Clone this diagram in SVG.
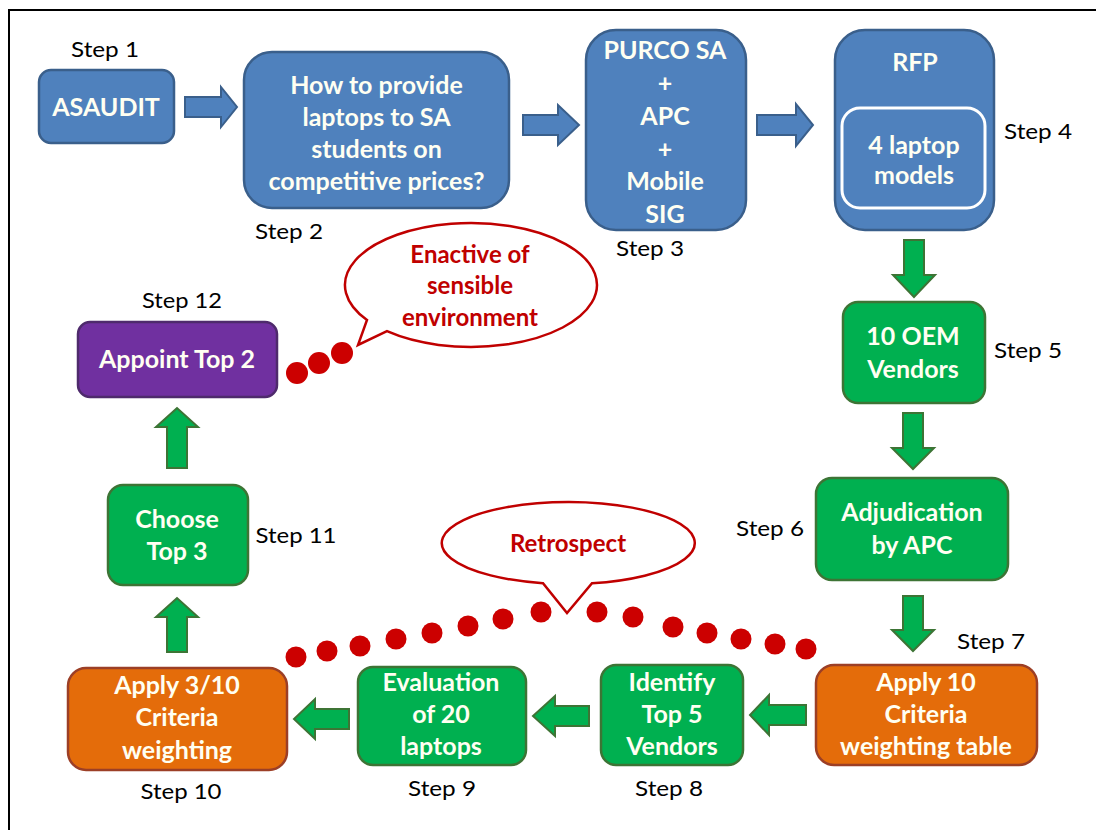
<svg xmlns="http://www.w3.org/2000/svg" width="1096" height="830" viewBox="0 0 1096 830">
  <style>
    .blue { fill: #4f81bd; stroke: #3a5f8b; stroke-width: 2.5; }
    .green { fill: #00b050; stroke: #3d7435; stroke-width: 2.5; }
    .orange { fill: #e46c0a; stroke: #9c3f26; stroke-width: 2.5; }
    .purple { fill: #7030a0; stroke: #4e2a6c; stroke-width: 2.5; }
    .ablue { fill: #4f81bd; stroke: #3a5f8b; stroke-width: 2; }
    .agreen { fill: #00b050; stroke: #3d7435; stroke-width: 2; }
    .t { font-family: Lato, "Liberation Sans", sans-serif; font-weight: bold; font-size: 25px; fill: #fffff2; text-anchor: middle; }
    .s { font-family: Lato, "Liberation Sans", sans-serif; font-size: 21px; fill: #000000; text-anchor: middle; }
    .b { font-family: Lato, "Liberation Sans", sans-serif; font-weight: bold; font-size: 24px; fill: #c00000; text-anchor: middle; }
    .bubble { fill: #ffffff; stroke: #c00000; stroke-width: 2.5; }
    .dot { fill: #cc0000; }
  </style>

  <!-- frame -->
  <path d="M9,830 V10 H1096" fill="none" stroke="#000000" stroke-width="2"/>

  <!-- connectors -->
  <g id="connectors">
    <path class="ablue" d="M185,97 H221 V87 L237,107 L221,127 V117 H185 Z"/>
    <path class="ablue" d="M523,115 H558 V105 L579,125 L558,145 V135 H523 Z"/>
    <path class="ablue" d="M757,115 H796 V104 L813,125 L796,146 V135 H757 Z"/>
    <path class="agreen" d="M904,240 H924 V275 H935 L914,297 L893,275 H904 Z"/>
    <path class="agreen" d="M903,413 H923 V448 H934 L913,469 L892,448 H903 Z"/>
    <path class="agreen" d="M903,596 H923 V630 H934 L913,651 L892,630 H903 Z"/>
    <path class="agreen" d="M806,705 H769 V695 L750,715 L769,735 V725 H806 Z"/>
    <path class="agreen" d="M589,706 H555 V696 L533,716 L555,736 V726 H589 Z"/>
    <path class="agreen" d="M349,709 H315 V699 L294,719 L315,739 V729 H349 Z"/>
    <path class="agreen" d="M167,652 V617 H156 L177,598 L198,617 H187 V652 Z"/>
    <path class="agreen" d="M167,468 V427 H156 L177,408 L198,427 H187 V468 Z"/>
  </g>

  <!-- step 1 -->
  <g id="step1">
    <text class="s" x="105" y="57" textLength="68" lengthAdjust="spacingAndGlyphs">Step 1</text>
    <rect class="blue" x="39" y="70" width="135" height="73" rx="12"/>
    <text class="t" x="106" y="116">ASAUDIT</text>
  </g>

  <!-- step 2 -->
  <g id="step2">
    <rect class="blue" x="244" y="52" width="265" height="156" rx="28"/>
    <text class="t" x="376.5" y="94">How to provide</text>
    <text class="t" x="376.5" y="126">laptops to SA</text>
    <text class="t" x="376.5" y="158">students on</text>
    <text class="t" x="376.5" y="190">competitive prices?</text>
    <text class="s" x="289" y="239" textLength="68" lengthAdjust="spacingAndGlyphs">Step 2</text>
  </g>

  <!-- step 3 -->
  <g id="step3">
    <rect class="blue" x="586" y="30" width="160" height="200" rx="30"/>
    <text class="t" x="665" y="59">PURCO SA</text>
    <text class="t" x="665" y="92">+</text>
    <text class="t" x="665" y="125">APC</text>
    <text class="t" x="665" y="158">+</text>
    <text class="t" x="665" y="190">Mobile</text>
    <text class="t" x="665" y="223">SIG</text>
    <text class="s" x="650" y="256" textLength="68" lengthAdjust="spacingAndGlyphs">Step 3</text>
  </g>

  <!-- step 4 -->
  <g id="step4">
    <rect class="blue" x="835" y="30" width="159" height="200" rx="30"/>
    <text class="t" x="915" y="71">RFP</text>
    <rect x="842" y="108" width="143" height="100" rx="18" fill="none" stroke="#ffffff" stroke-width="3"/>
    <text class="t" x="914" y="154">4 laptop</text>
    <text class="t" x="914" y="184">models</text>
    <text class="s" x="1038" y="139" textLength="68" lengthAdjust="spacingAndGlyphs">Step 4</text>
  </g>

  <!-- step 5 -->
  <g id="step5">
    <rect class="green" x="843" y="302" width="142" height="101" rx="15"/>
    <text class="t" x="913" y="345">10 OEM</text>
    <text class="t" x="913" y="378">Vendors</text>
    <text class="s" x="1028" y="358" textLength="68" lengthAdjust="spacingAndGlyphs">Step 5</text>
  </g>

  <!-- step 6 -->
  <g id="step6">
    <rect class="green" x="816" y="478" width="192" height="102" rx="16"/>
    <text class="t" x="912" y="521">Adjudication</text>
    <text class="t" x="912" y="554">by APC</text>
    <text class="s" x="770" y="536" textLength="68" lengthAdjust="spacingAndGlyphs">Step 6</text>
  </g>

  <!-- step 7 -->
  <g id="step7">
    <rect class="orange" x="816" y="665" width="221" height="100" rx="18"/>
    <text class="t" x="926" y="691">Apply 10</text>
    <text class="t" x="926" y="723">Criteria</text>
    <text class="t" x="926" y="755">weighting table</text>
    <text class="s" x="991" y="649" textLength="68" lengthAdjust="spacingAndGlyphs">Step 7</text>
  </g>

  <!-- step 8 -->
  <g id="step8">
    <rect class="green" x="601" y="665" width="142" height="100" rx="15"/>
    <text class="t" x="672" y="691">Identify</text>
    <text class="t" x="672" y="723">Top 5</text>
    <text class="t" x="672" y="755">Vendors</text>
    <text class="s" x="669" y="796" textLength="68" lengthAdjust="spacingAndGlyphs">Step 8</text>
  </g>

  <!-- step 9 -->
  <g id="step9">
    <rect class="green" x="358" y="667" width="168" height="98" rx="15"/>
    <text class="t" x="441" y="691">Evaluation</text>
    <text class="t" x="441" y="723">of 20</text>
    <text class="t" x="441" y="755">laptops</text>
    <text class="s" x="442" y="796" textLength="68" lengthAdjust="spacingAndGlyphs">Step 9</text>
  </g>

  <!-- step 10 -->
  <g id="step10">
    <rect class="orange" x="68" y="668" width="219" height="102" rx="18"/>
    <text class="t" x="177" y="694">Apply 3/10</text>
    <text class="t" x="177" y="726">Criteria</text>
    <text class="t" x="177" y="759">weighting</text>
    <text class="s" x="181" y="799" textLength="81" lengthAdjust="spacingAndGlyphs">Step 10</text>
  </g>

  <!-- step 11 -->
  <g id="step11">
    <rect class="green" x="108" y="485" width="140" height="100" rx="15"/>
    <text class="t" x="177" y="528">Choose</text>
    <text class="t" x="177" y="560">Top 3</text>
    <text class="s" x="296" y="543" textLength="81" lengthAdjust="spacingAndGlyphs">Step 11</text>
  </g>

  <!-- step 12 -->
  <g id="step12">
    <text class="s" x="182" y="308" textLength="80" lengthAdjust="spacingAndGlyphs">Step 12</text>
    <rect class="purple" x="78" y="322" width="199" height="75" rx="12"/>
    <text class="t" x="177" y="368">Appoint Top 2</text>
  </g>

  <!-- callout: enactive of sensible environment -->
  <g id="callout-enactive">
    <path class="bubble" d="M367,320 A126,62 0 1 1 387,331.2 L358,345 Z"/>
    <text class="b" x="470" y="263">Enactive of</text>
    <text class="b" x="470" y="294">sensible</text>
    <text class="b" x="470" y="326">environment</text>
    <circle class="dot" cx="297" cy="373" r="11"/>
    <circle class="dot" cx="319" cy="363" r="11"/>
    <circle class="dot" cx="342" cy="353" r="11"/>
  </g>

  <!-- callout: retrospect -->
  <g id="callout-retrospect">
    <path class="bubble" d="M543,583.2 A126.5,41 0 1 1 592,583.3 L567,613 Z"/>
    <text class="b" x="568" y="552">Retrospect</text>
    <circle class="dot" cx="296" cy="657" r="10.5"/>
    <circle class="dot" cx="327" cy="651" r="10.5"/>
    <circle class="dot" cx="360" cy="646" r="10.5"/>
    <circle class="dot" cx="396" cy="639" r="10.5"/>
    <circle class="dot" cx="432" cy="633" r="10.5"/>
    <circle class="dot" cx="468" cy="626" r="10.5"/>
    <circle class="dot" cx="503" cy="619" r="10.5"/>
    <circle class="dot" cx="541" cy="612" r="10.5"/>
    <circle class="dot" cx="597" cy="612" r="10.5"/>
    <circle class="dot" cx="633" cy="617" r="10.5"/>
    <circle class="dot" cx="673" cy="627" r="10.5"/>
    <circle class="dot" cx="707" cy="633" r="10.5"/>
    <circle class="dot" cx="741" cy="639" r="10.5"/>
    <circle class="dot" cx="775" cy="644" r="10.5"/>
    <circle class="dot" cx="806" cy="649" r="10.5"/>
  </g>
</svg>
